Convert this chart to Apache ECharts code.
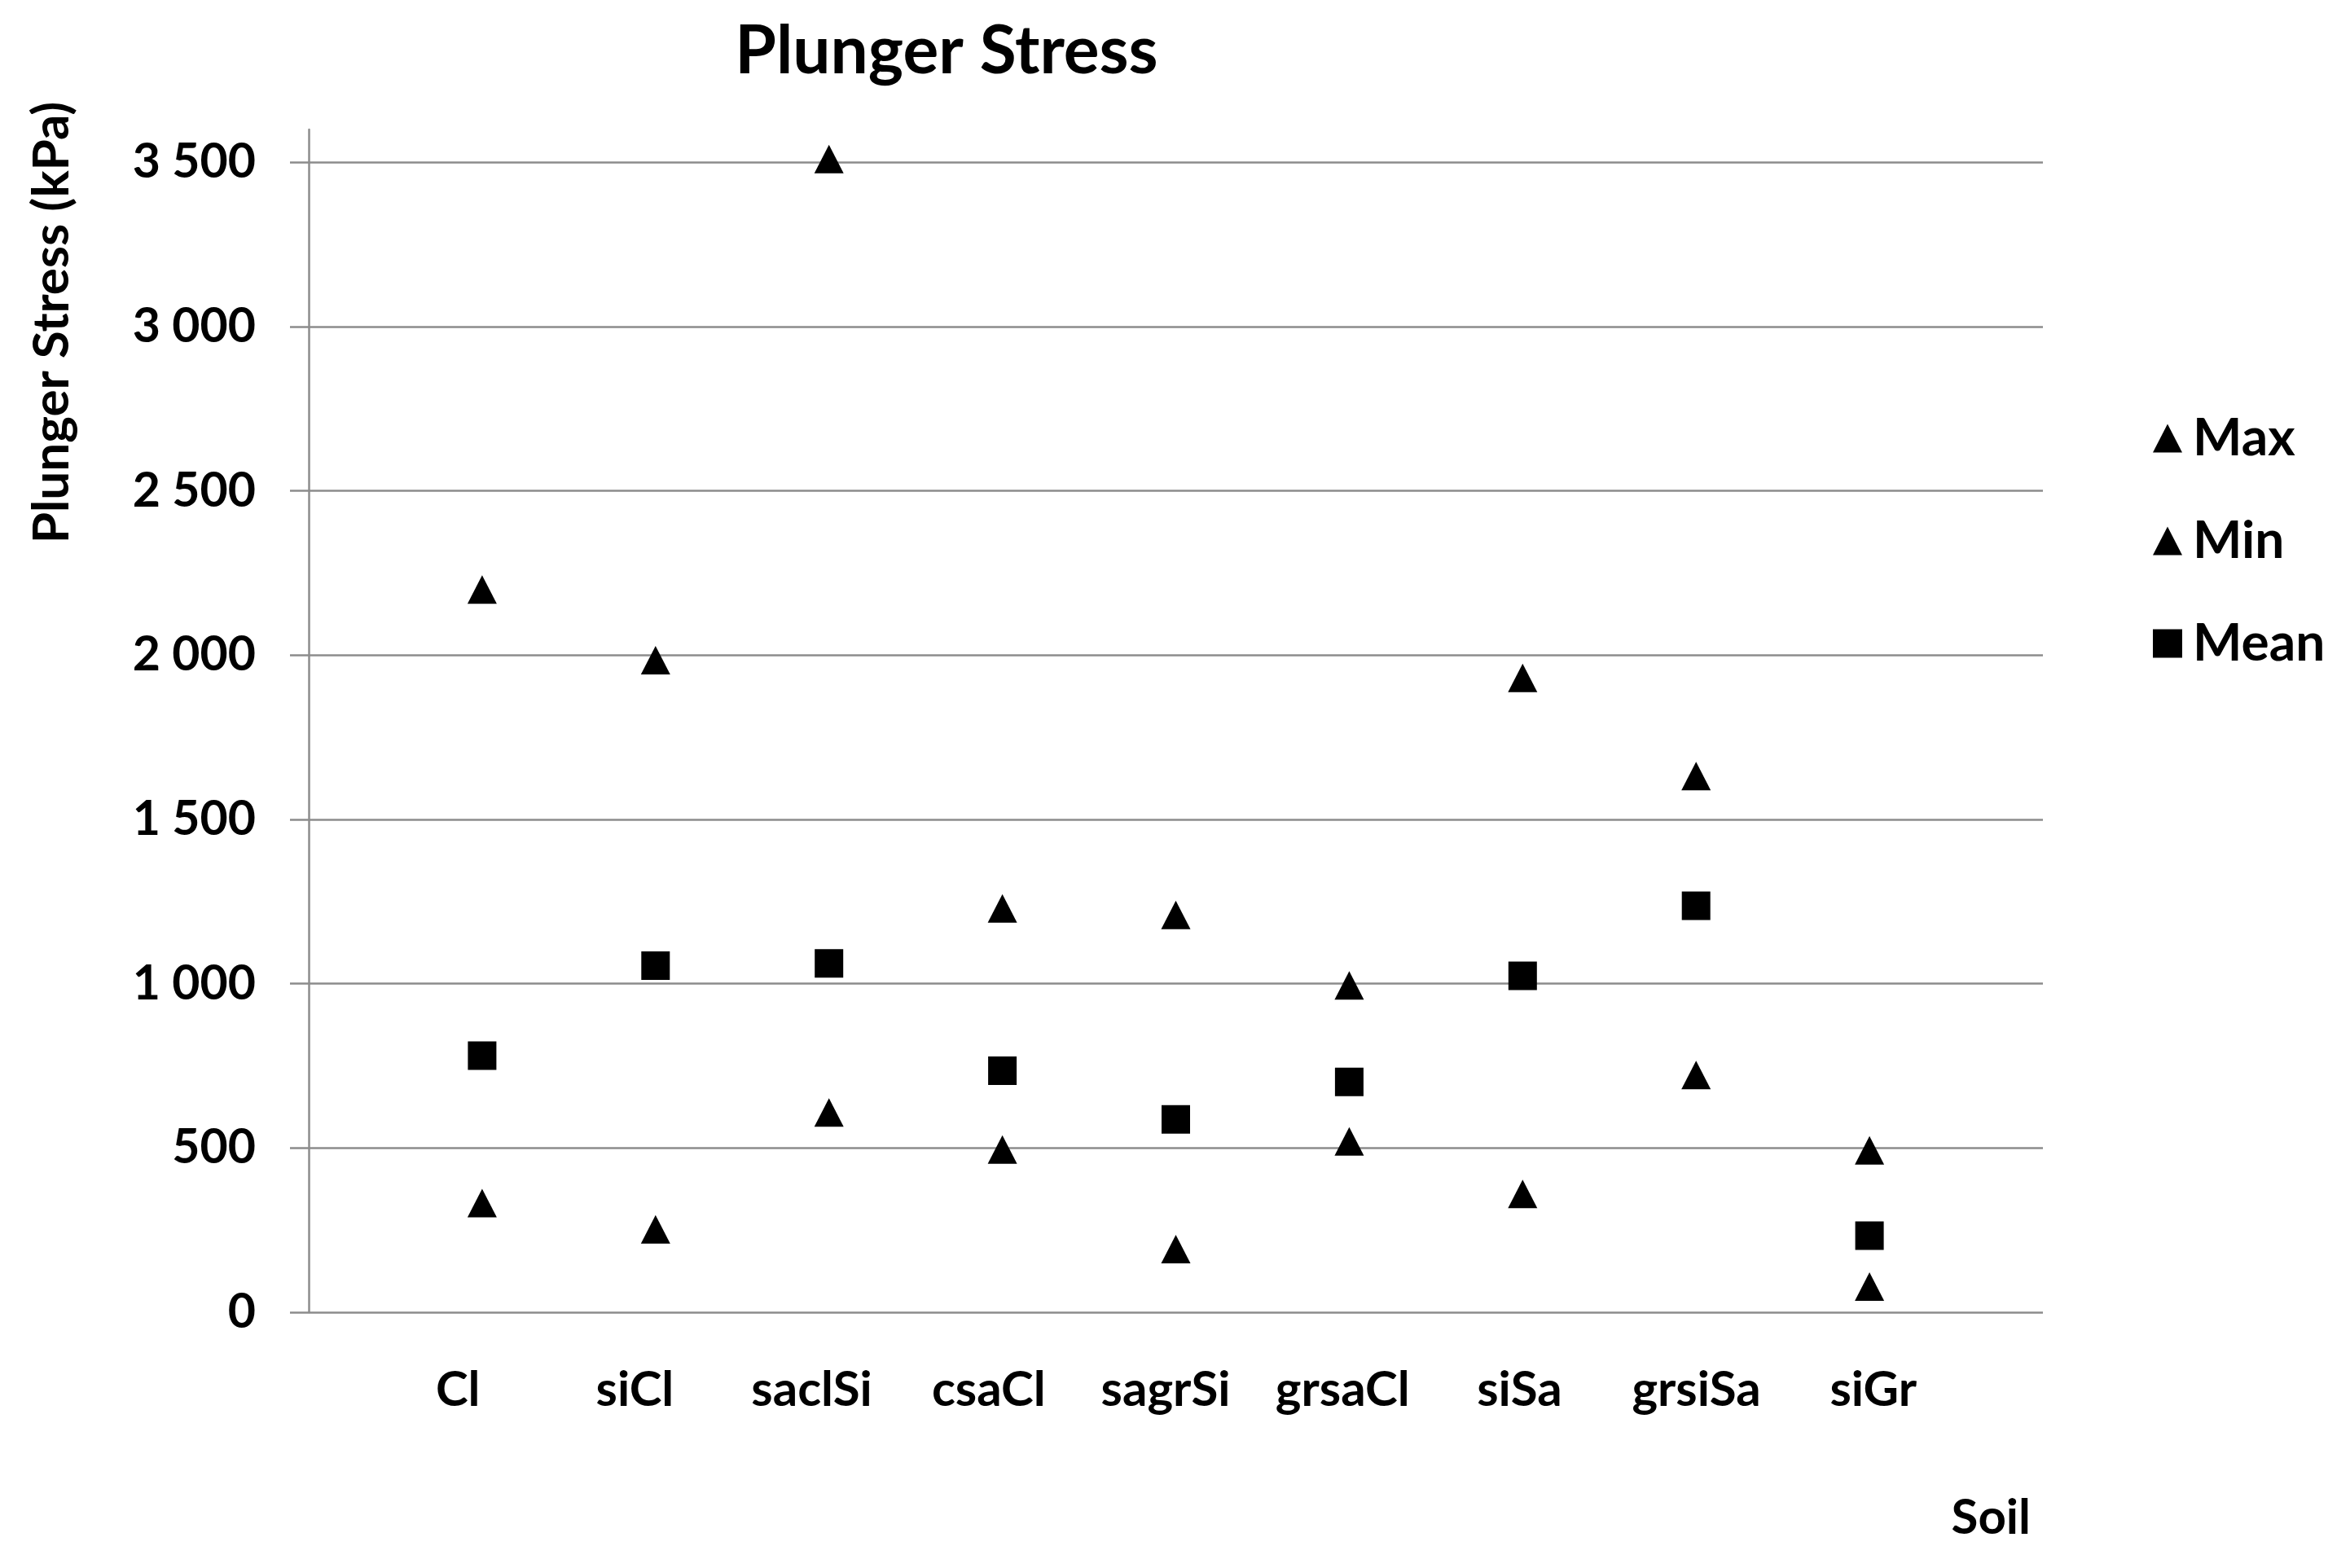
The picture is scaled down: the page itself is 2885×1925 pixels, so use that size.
<!DOCTYPE html>
<html>
<head>
<meta charset="utf-8">
<script src="https://cdn.jsdelivr.net/npm/echarts@6/dist/echarts.min.js"></script>
<style>
  html, body { margin: 0; padding: 0; background: #ffffff; }
  #chart { width: 2885px; height: 1925px; }
</style>
</head>
<body>
<div id="chart"></div>
<script>
// ---- data ----
const categories = ['Cl', 'siCl', 'saclSi', 'csaCl', 'sagrSi', 'grsaCl', 'siSa', 'grsiSa', 'siGr'];
const maxValues  = [2200, 1985, 3510, 1229, 1209, 995, 1931, 1632, 493];
const minValues  = [332, 252, 608, 495, 192, 520, 360, 722, 78];
const meanValues = [781, 1055, 1062, 735, 587, 701, 1024, 1237, 233];
const yTicks = [0, 500, 1000, 1500, 2000, 2500, 3000, 3500];

const FONT = 'Lato, "Open Sans", sans-serif';
const GRID_COLOR = '#8c8c8c';

function toPoints(vals) {
  return vals.map((v, i) => [i + 1, v]);
}
function fmtThousands(v) {
  if (v >= 1000) {
    return Math.floor(v / 1000) + ' ' + String(v % 1000).padStart(3, '0');
  }
  return String(v);
}

const chart = echarts.init(document.getElementById('chart'), null, { renderer: 'canvas' });

const markerStyle = { color: '#000', opacity: 1 };

const option = {
  backgroundColor: '#ffffff',
  animation: false,
  title: {
    text: 'Plunger Stress',
    left: 1157,
    textAlign: 'center',
    top: 18,
    textStyle: { fontFamily: FONT, fontWeight: 'bold', fontSize: 82, color: '#000' }
  },
  legend: {
    orient: 'vertical',
    left: 2638,
    top: 501,
    itemWidth: 36,
    itemHeight: 35,
    itemGap: 62,
    data: ['Max', 'Min', 'Mean'],
    itemStyle: { opacity: 1 },
    textStyle: { fontFamily: FONT, fontWeight: 'bold', fontSize: 64, lineHeight: 64, color: '#000', padding: [0, 0, 0, 8] }
  },
  grid: [
    { left: 379, right: 377, top: 159, bottom: 314 },
    { left: 345, width: 2172, top: 159, bottom: 314, show: false }
  ],
  xAxis: [
    {
      type: 'value', gridIndex: 0, min: 0, max: 10, interval: 1,
      axisLine: { show: false }, axisTick: { show: false }, axisLabel: { show: false },
      splitLine: { show: false },
      name: 'Soil', nameLocation: 'end', nameGap: -15,
      nameTextStyle: { fontFamily: FONT, fontWeight: 'bold', fontSize: 60, color: '#000',
        align: 'right', verticalAlign: 'top', padding: [223, 0, 0, 0] }
    },
    {
      type: 'value', gridIndex: 1, min: 0, max: 10, interval: 1,
      axisLine: { show: false }, axisTick: { show: false }, splitLine: { show: false },
      axisLabel: {
        show: true, margin: 66, showMinLabel: false, showMaxLabel: false,
        fontFamily: FONT, fontWeight: 'bold', fontSize: 60, color: '#000',
        formatter: v => categories[v - 1] || ''
      }
    }
  ],
  yAxis: [
    {
      type: 'value', gridIndex: 0, min: 0, max: 3600, interval: 500,
      axisLine: { show: true, lineStyle: { color: GRID_COLOR, width: 2.5 } },
      axisTick: { show: true, inside: false, length: 23, lineStyle: { color: GRID_COLOR, width: 2.5 } },
      splitLine: { show: true, showMaxLine: false, lineStyle: { color: GRID_COLOR, width: 2.5 } },
      axisLabel: {
        margin: 65, showMaxLabel: false,
        fontFamily: FONT, fontWeight: 'bold', fontSize: 59, color: '#000',
        formatter: v => (yTicks.indexOf(v) >= 0 ? fmtThousands(v) : '')
      }
    },
    {
      type: 'value', gridIndex: 1, min: 0, max: 3600, show: false
    }
  ],
  graphic: [
    {
      type: 'text',
      x: 64, y: 396,
      rotation: Math.PI / 2,
      style: {
        text: 'Plunger Stress (kPa)',
        font: 'bold 62px ' + FONT,
        fill: '#000',
        textAlign: 'center',
        textVerticalAlign: 'middle'
      }
    }
  ],
  series: [
    {
      name: 'Max', type: 'scatter', xAxisIndex: 0, yAxisIndex: 0,
      symbol: 'triangle', symbolSize: [36, 35],
      itemStyle: markerStyle,
      data: toPoints(maxValues)
    },
    {
      name: 'Min', type: 'scatter', xAxisIndex: 0, yAxisIndex: 0,
      symbol: 'triangle', symbolSize: [36, 35],
      itemStyle: markerStyle,
      data: toPoints(minValues)
    },
    {
      name: 'Mean', type: 'scatter', xAxisIndex: 0, yAxisIndex: 0,
      symbol: 'rect', symbolSize: [35, 35],
      itemStyle: markerStyle,
      data: toPoints(meanValues)
    }
  ]
};

chart.setOption(option);
</script>
</body>
</html>
